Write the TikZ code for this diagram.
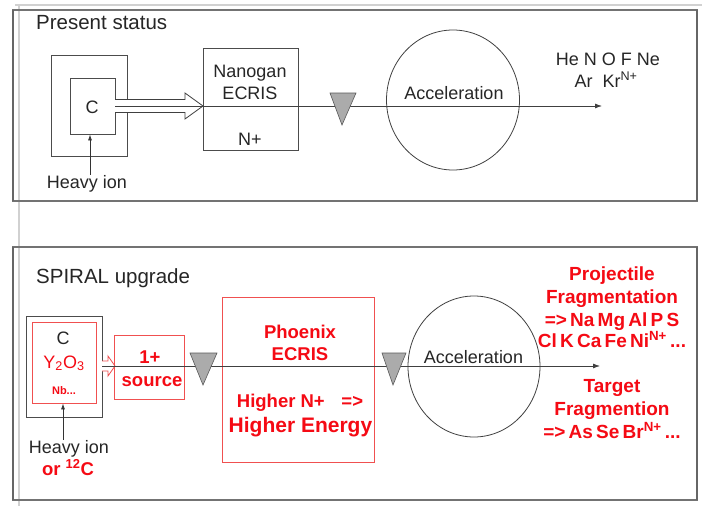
\documentclass[tikz,border=0pt]{standalone}
\usepackage{fontspec}
\setmainfont{Liberation Sans}
\usetikzlibrary{shapes.geometric,arrows.meta}
\definecolor{boxred}{RGB}{240,80,80}
\definecolor{txtred}{RGB}{245,10,20}
\newcommand{\tightsp}{\spaceskip=0.17em plus 0.05em\relax}
\begin{document}
\begin{tikzpicture}[x=1pt,y=-1pt,
  txt/.style={inner sep=0pt, anchor=base, text=black!85, font=\fontsize{18}{21}\selectfont},
  head/.style={txt, anchor=base west, font=\fontsize{20.5}{23}\selectfont},
  rtxt/.style={inner sep=0pt, anchor=base, text=txtred, font=\fontsize{18.5}{21}\selectfont\bfseries},
  rlist/.style={rtxt, font=\fontsize{19}{21}\selectfont\bfseries, execute at begin node=\tightsp},
  box/.style={draw=black!70, line width=0.8pt, inner sep=0pt},
  rbox/.style={draw=boxred, line width=0.8pt, inner sep=0pt},
  frame/.style={draw=black!55, line width=1.3pt},
  edge/.style={draw=black!60, line width=2.4pt},
  beam/.style={draw=black!75, line width=0.8pt, -{Latex[length=7pt,width=5pt]}},
  uparr/.style={draw=black!80, line width=0.8pt, -{Latex[length=6pt,width=4pt]}},
  tri/.style={fill=black!33, draw=black!65, line width=0.6pt},
  accel/.style={ellipse, draw=black!75, line width=0.8pt, inner sep=0pt}
]
\useasboundingbox (0,0) rectangle (702,506);
\fill[white] (0,0) rectangle (702,506);

% slide guide lines
\draw[black!18, line width=1.2pt] (15,5) -- (702,5);
\draw[black!18, line width=1.2pt] (19,5) -- (19,506);

% frames
\draw[frame] (13,10) rectangle (697,201);
\draw[edge] (13,10) -- (13,201);
\draw[edge] (697,10) -- (697,201);
\draw[frame] (13,247) rectangle (697,500);
\draw[edge] (13,247) -- (13,500);
\draw[edge] (697,247) -- (697,500);

% ---------------- Present status ----------------
\node[head] (ps) at (36,30) {Present status};
\node[box, minimum width=76pt, minimum height=101pt] (out1) at (89,105.5) {};
\node[box, minimum width=45pt, minimum height=56pt] (c1) at (92.5,106) {};
\node[txt] (c1t) at (92,113) {C};
\node[txt] (hi1) at (87,188) {Heavy ion};
\coordinate (ax1) at (90,0);
\draw[uparr] (hi1.north -| ax1) -- (c1.south -| ax1);

\node[box, minimum width=95pt, minimum height=102pt] (nano) at (250.5,99) {};
\node[txt] (nano1) at (250,77) {Nanogan};
\node[txt] (nano2) at (250,99) {ECRIS};
\node[txt] (nano3) at (250,145) {N+};

% hollow arrow
\draw[black!75, line width=0.8pt, fill=white]
  (115,99.5) -- (185,99.5) -- (185,93) -- (203,106) -- (185,119) -- (185,112.5) -- (115,112.5);

\node[accel, minimum width=133pt, minimum height=140pt] (acc1) at (453,100) {};
\coordinate (end1) at (602,106);
\draw[beam] (c1.east) -- (end1);
\draw[tri] (330,93) -- (356,93) -- (342,125) -- cycle;
\node[txt] (acc1t) at (454,99) {Acceleration};
\node[txt] (ions1) at (608,65) {He N O F Ne};
\node[txt] (ions2) at (606,87) {Ar\ \ Kr\textsuperscript{N+}};

% ---------------- SPIRAL upgrade ----------------
\node[head] (su) at (36,283) {SPIRAL upgrade};
\node[box, minimum width=76pt, minimum height=101pt] (out2) at (64,366.5) {};
\node[rbox, minimum width=64pt, minimum height=81pt] (c2) at (64,362.5) {};
\node[txt] (c2a) at (63,344) {C};
\node[txt, text=txtred] (c2b) at (64,368) {Y\textsubscript{2}O\textsubscript{3}};
\node[rtxt, font=\fontsize{11}{13}\selectfont\bfseries] (c2c) at (64,394) {Nb...};
\node[txt] (hi2) at (69,453) {Heavy ion};
\node[rtxt] (hi3) at (68,475) {or \textsuperscript{12}C};
\coordinate (ax2) at (63,0);
\draw[uparr] (hi2.north -| ax2) -- (c2.south -| ax2);

% small red hollow arrow
\draw[boxred, line width=0.8pt, fill=white]
  (102,361) -- (108,361) -- (108,356) -- (115,366) -- (108,376) -- (108,371) -- (102,371);

\node[rbox, minimum width=70pt, minimum height=64pt] (src) at (149,367) {};
\node[rtxt] (src1) at (150,363) {1+};
\node[rtxt] (src2) at (152,386) {source};

\node[rbox, minimum width=152pt, minimum height=165pt] (phx) at (298,379.5) {};
\node[rtxt] (phx1) at (300,338) {Phoenix};
\node[rtxt] (phx2) at (300,360) {ECRIS};
\node[rtxt] (phx3) at (300,407) {Higher N+\hspace{0.9em}=>};
\node[rtxt, font=\fontsize{21}{23}\selectfont\bfseries] (phx4) at (300.5,432) {Higher Energy};

\node[accel, minimum width=132pt, minimum height=141pt] (acc2) at (474,366.5) {};
\coordinate (end2) at (600,366);
\draw[beam] (out2.east |- end2) -- (end2);
\draw[tri] (190,353) -- (217,353) -- (203,385) -- cycle;
\draw[tri] (382,353) -- (406,353) -- (393,385) -- cycle;
\node[txt] (acc2t) at (473.5,363) {Acceleration};

\node[rlist] (pf1) at (612,280) {Projectile};
\node[rlist] (pf2) at (612,303) {Fragmentation};
\node[rlist] (pf3) at (612,326) {=> Na Mg Al P S};
\node[rlist] (pf4) at (612,347) {Cl K Ca Fe Ni\textsuperscript{N+} ...};
\node[rlist] (tf1) at (612,392) {Target};
\node[rlist] (tf2) at (612,415) {Fragmention};
\node[rlist] (tf3) at (612,438) {=> As Se Br\textsuperscript{N+} ...};
\end{tikzpicture}
\end{document}
